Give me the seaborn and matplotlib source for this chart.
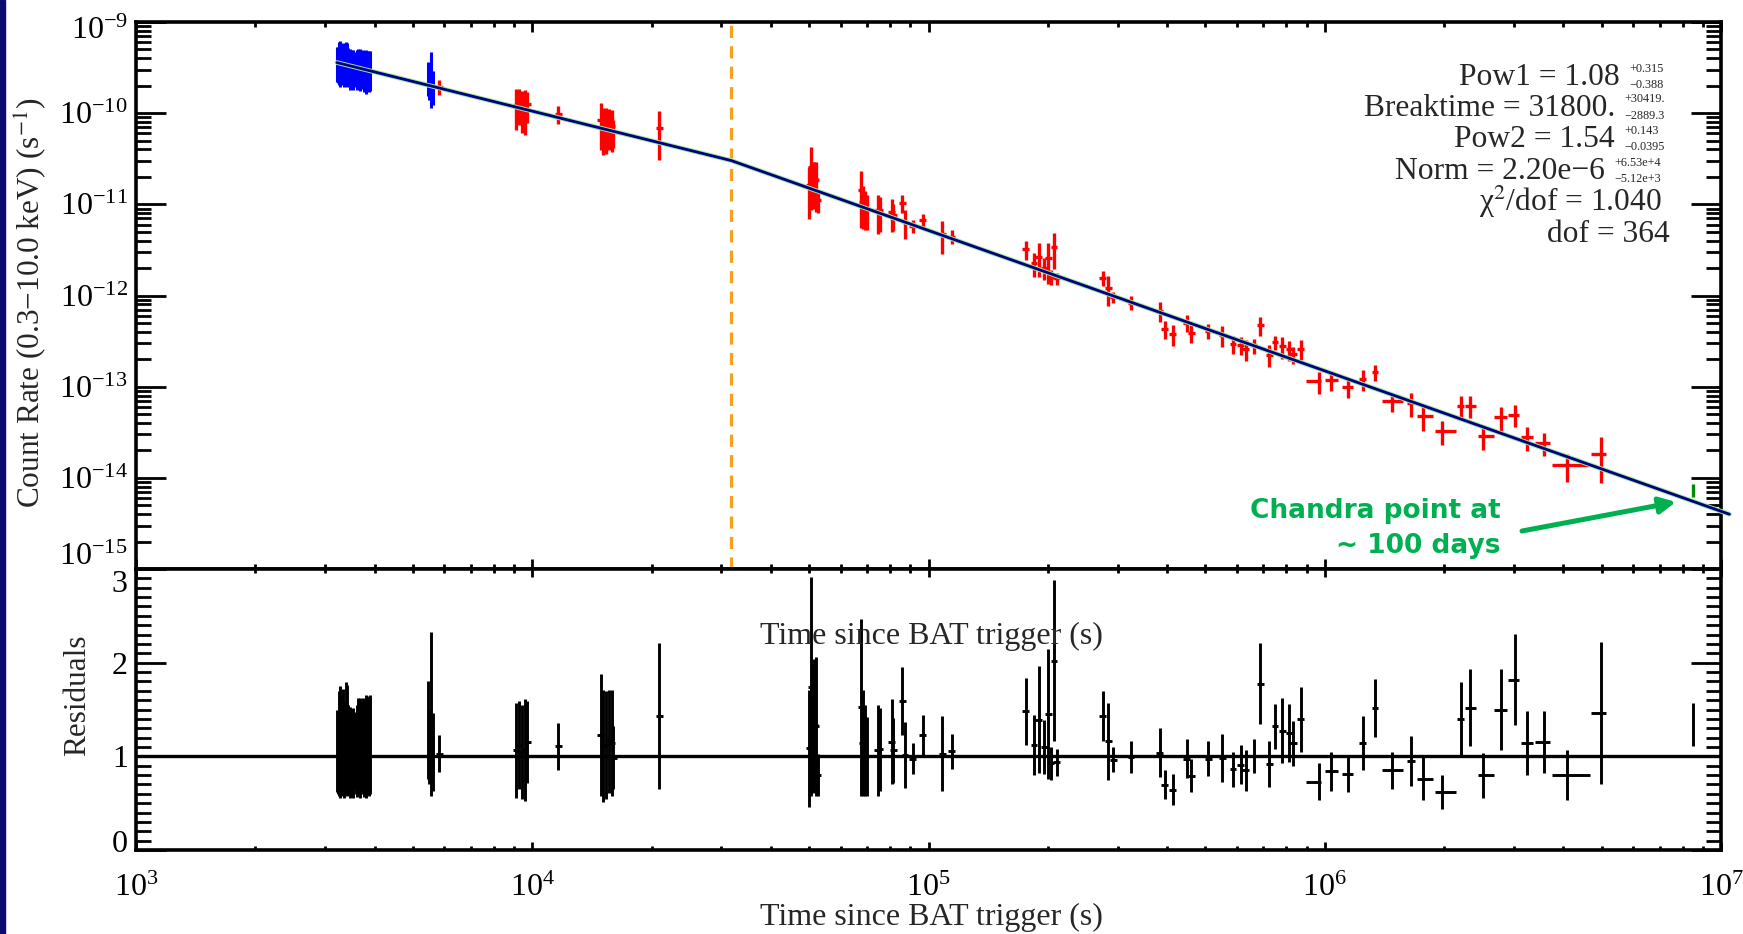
import numpy as np
import matplotlib
matplotlib.use("Agg")
import matplotlib.pyplot as plt
import seaborn as sns
from matplotlib.ticker import (LogLocator, MultipleLocator, FixedLocator,
                               LogFormatterMathtext, NullFormatter)
from matplotlib.transforms import ScaledTranslation
from matplotlib.patches import Rectangle

# ---------------- fit parameters (as printed on the chart) ----------------
POW1 = 1.08
BREAK_T = 31800.0
POW2 = 1.54
NORM = 2.20e-6

# ---------------- WT-mode data (blue) ----------------
wt_t = [3215, 3235, 3255, 3275, 3295, 3316, 3337, 3358, 3380, 3402,
        3424, 3446, 3469, 3492, 3515, 3538, 3562, 3586, 3610, 3634,
        3659, 3684, 3709, 3735, 3761, 3787, 3813, 3839, 3865, 3890,
        5446, 5500, 5555, 5610]
wt_res = [1.06, 1.04, 1.14, 1.15, 1.07, 1.115, 1.16, 1.07, 1.205, 1.17,
          1.075, 1.05, 1.04, 1.035, 1.04, 1.035, 1.055, 1.00, 1.06, 1.12,
          1.10, 1.09, 1.105, 1.11, 1.035, 1.11, 1.105, 1.12, 1.10, 1.13,
          1.28, 1.10, 1.455, 1.045]
wt_err = [0.44, 0.44, 0.56, 0.60, 0.45, 0.535, 0.56, 0.51, 0.585, 0.59,
          0.475, 0.43, 0.49, 0.405, 0.46, 0.485, 0.415, 0.40, 0.49, 0.50,
          0.50, 0.53, 0.475, 0.51, 0.465, 0.49, 0.555, 0.52, 0.52, 0.53,
          0.52, 0.40, 0.875, 0.415]

# ---------------- PC-mode data, narrow time bins (red) ----------------
pc_t = [5824, 9100, 9262, 9400, 9587, 9718, 11634, 14885, 15110, 15350,
        15590, 15870, 16020, 20900, 50030, 50520, 51010, 51490, 51990, 52510,
        67560, 68230, 69150, 70100, 74450, 75440, 80720, 81520, 85900, 87250,
        91200, 96700, 108400, 114400, 175800, 184600, 190000, 196100, 200600,
        203300, 207400, 210500, 275600, 284600, 292700, 324500, 383700,
        395000, 413000, 448000, 461000, 508000, 551000, 587000, 613000,
        632000, 662000, 688000, 724000, 749000, 781000, 813000, 832000,
        869000, 1246000, 1339000, 2203000]
pc_res = [1.03, 1.065, 1.12, 1.045, 1.065, 1.155, 1.105, 1.23, 1.11, 1.12,
          1.16, 1.145, 0.985, 1.43, 1.085, 1.745, 1.305, 1.335, 1.32, 0.805,
          1.525, 1.145, 1.065, 1.0, 1.065, 1.075, 1.155, 1.065, 1.59, 1.015,
          0.975, 1.225, 1.03, 1.055, 1.48, 1.12, 1.39, 1.10, 1.455,
          0.925, 2.02, 0.935, 1.43, 1.16, 0.965, 0.99, 1.04,
          0.695, 0.645, 0.975, 0.795, 0.975, 0.985, 0.86, 0.91,
          0.85, 1.005, 1.775, 0.915, 1.32, 1.275, 1.25, 1.14,
          1.395, 1.14, 1.52, 1.40]
pc_err = [0.20, 0.505, 0.47, 0.505, 0.545, 0.435, 0.25, 0.65, 0.60, 0.58,
          0.55, 0.565, 0.335, 0.78, 0.625, 1.165, 0.695, 0.705, 0.74, 0.225,
          0.945, 0.565, 0.485, 0.42, 0.485, 0.445, 0.455, 0.345, 0.36, 0.355,
          0.165, 0.215, 0.40, 0.185, 0.36, 0.32, 0.57, 0.29, 0.695,
          0.175, 0.86, 0.145, 0.27, 0.41, 0.135, 0.17, 0.26,
          0.155, 0.165, 0.205, 0.175, 0.185, 0.255, 0.19, 0.21,
          0.22, 0.185, 0.435, 0.245, 0.24, 0.345, 0.31, 0.24,
          0.345, 0.29, 0.31, 0.39]

# ---------------- PC-mode data, wide time bins (red crosses) ----------------
wide_t = [966000, 1039000, 1146000, 1475000, 1647000, 1766000, 1972000,
          2326000, 2513000, 2780000, 3020000, 3233000, 3574000, 4077000, 4970000]
wide_lo = [897000, 1000000, 1103000, 1392000, 1609000, 1710000, 1897000,
           2260000, 2430000, 2670000, 2905000, 3120000, 3400000, 3737000, 4690000]
wide_hi = [977000, 1082000, 1176000, 1572000, 1689000, 1878000, 2143000,
           2410000, 2670000, 2887000, 3100000, 3360000, 3700000, 4670000, 5130000]
wide_res = [0.73, 0.84, 0.81, 0.85, 0.95, 0.76, 0.62,
            1.52, 0.80, 1.50, 1.82, 1.14, 1.15, 0.80, 1.46]
wide_err = [0.20, 0.21, 0.19, 0.20, 0.27, 0.23, 0.18,
            0.41, 0.24, 0.43, 0.49, 0.34, 0.33, 0.27, 0.76]

# ---------------- Chandra point (green) ----------------
cxo_t = [8510000]
cxo_res = [1.34]
cxo_err = [0.23]

# model curve end points (time range of the drawn fit)
model_t = [3215, BREAK_T, 1.05e7]

fit_lines = [("Pow1 = 1.08", "+0.315", "\u22120.388"),
             ("Breaktime = 31800.", "+30419.", "\u22122889.3"),
             ("Pow2 = 1.54", "+0.143", "\u22120.0395"),
             ("Norm = 2.20e\u22126", "+6.53e+4", "\u22125.12e+3")]
stat_lines = ["\u03c7$^{2}$/dof = 1.040", "dof = 364"]


def model(t):
    t = np.asarray(t, dtype=float)
    return np.where(t < BREAK_T, NORM * t ** (-POW1),
                    NORM * BREAK_T ** (POW2 - POW1) * t ** (-POW2))


# ---------------- style ----------------
sns.set_style("ticks")
plt.rcParams['font.family'] = ['Liberation Serif', 'DejaVu Serif']
plt.rcParams['mathtext.fontset'] = 'stix'
plt.rcParams['axes.linewidth'] = 2.6

W, H = 1743, 934
fig = plt.figure(figsize=(W / 100, H / 100), dpi=100, facecolor='white')


def fx(x):
    return x / W


def fy(y):
    return 1 - y / H


L, R, T, M, B = 136, 1721, 22, 569, 850
ax1 = fig.add_axes([fx(L), fy(M), (R - L) / W, (M - T) / H])
ax2 = fig.add_axes([fx(L), fy(B), (R - L) / W, (B - M) / H])

# left navy strip
fig.patches.append(Rectangle((0, 0), 5 / W, 1, transform=fig.transFigure,
                             color='#0c0c70', zorder=-1))

BLUE, RED, DGREEN, NAVY = '#0000ff', '#ff0000', '#008c00', '#000080'

# ---------------- upper panel ----------------
wt_m = model(wt_t)
ax1.errorbar(wt_t, wt_m * np.array(wt_res), yerr=wt_m * np.array(wt_err),
             fmt='none', ecolor=BLUE, elinewidth=2.2, capsize=0, zorder=3)
pc_m = model(pc_t)
pc_tt = np.array(pc_t, float)
ax1.errorbar(pc_t, pc_m * np.array(pc_res), yerr=pc_m * np.array(pc_err),
             xerr=0.02 * pc_tt, fmt='none', ecolor=RED, elinewidth=2.4,
             capsize=0, zorder=3)
wd_m = model(wide_t)
wt_arr = np.array(wide_t, float)
wide_xerr = [wt_arr - np.array(wide_lo), np.array(wide_hi) - wt_arr]
ax1.errorbar(wide_t, wd_m * np.array(wide_res), yerr=wd_m * np.array(wide_err),
             xerr=wide_xerr, fmt='none', ecolor=RED, elinewidth=2.4,
             capsize=0, zorder=3)
cx_m = model(cxo_t)
ax1.errorbar(cxo_t, cx_m * np.array(cxo_res), yerr=cx_m * np.array(cxo_err),
             fmt='none', ecolor=DGREEN, elinewidth=2.4, capsize=0, zorder=3)

my = model(model_t)
sns.lineplot(x=model_t, y=my, ax=ax1, color='#9be89b', linewidth=3.4,
             sort=False, estimator=None, clip_on=False, zorder=4)
sns.lineplot(x=model_t, y=my, ax=ax1, color=NAVY, linewidth=2.0,
             sort=False, estimator=None, clip_on=False, zorder=5)
ax1.axvline(BREAK_T, color='#f5a11e', linewidth=2.3, linestyle=(0, (3.8, 2.6)),
            zorder=2)

ax1.set_xscale('log')
ax1.set_yscale('log')
ax1.set_xlim(1e3, 1e7)
ax1.set_ylim(1e-15, 1e-9)
ax1.yaxis.set_major_locator(FixedLocator([10.0 ** k for k in range(-15, -8)]))
ax1.yaxis.set_minor_locator(LogLocator(base=10, subs=np.arange(2, 10), numticks=50))
ax1.yaxis.set_major_formatter(LogFormatterMathtext())
ax1.yaxis.set_minor_formatter(NullFormatter())

# ---------------- lower panel ----------------
ax2.axhline(1.0, color='black', linewidth=2.4, zorder=2)
ax2.errorbar(wt_t, wt_res, yerr=wt_err, fmt='none', ecolor='black',
             elinewidth=2.1, capsize=0, zorder=3)
ax2.errorbar(pc_t, pc_res, yerr=pc_err, xerr=0.02 * pc_tt, fmt='none',
             ecolor='black', elinewidth=2.1, capsize=0, zorder=3)
ax2.errorbar(wide_t, wide_res, yerr=wide_err, xerr=wide_xerr, fmt='none',
             ecolor='black', elinewidth=2.1, capsize=0, zorder=3)
ax2.errorbar(cxo_t, cxo_res, yerr=cxo_err, fmt='none', ecolor='black',
             elinewidth=2.1, capsize=0, zorder=3)
ax2.set_xscale('log')
ax2.set_xlim(1e3, 1e7)
ax2.set_ylim(0, 3)
ax2.yaxis.set_major_locator(FixedLocator([0, 1, 2, 3]))
ax2.yaxis.set_minor_locator(MultipleLocator(0.1))
ax2.set_yticklabels(['0', '1', '2', '3'])

for ax in (ax1, ax2):
    ax.set_facecolor('white')
    ax.xaxis.set_major_locator(FixedLocator([1e3, 1e4, 1e5, 1e6, 1e7]))
    ax.xaxis.set_minor_locator(LogLocator(base=10, subs=np.arange(2, 10), numticks=50))
    ax.xaxis.set_minor_formatter(NullFormatter())
    ax.tick_params(which='both', direction='in', top=True, right=True,
                   width=2.0, color='black', labelsize=23, labelcolor='black')
    ax.tick_params(axis='y', which='major', length=21.5, pad=6)
    ax.tick_params(axis='y', which='minor', length=11)
    for sp in ax.spines.values():
        sp.set_linewidth(2.6)
        sp.set_color('black')
    ax.set_xlabel('')
    ax.set_ylabel('')

ax1.tick_params(axis='x', which='major', length=7.5, labelbottom=False)
ax1.tick_params(axis='x', which='minor', length=3.8)
ax2.tick_params(axis='x', which='major', length=5.5, pad=17)
ax2.tick_params(axis='x', which='minor', length=3.2)
ax2.xaxis.set_major_formatter(LogFormatterMathtext())

# nudge the end labels inward like the original
fig.canvas.draw()


def nudge(tick, dy_px):
    lab = tick.label1
    lab.set_transform(lab.get_transform() +
                      ScaledTranslation(0, dy_px / 100.0, fig.dpi_scale_trans))


t1 = ax1.yaxis.get_major_ticks()
nudge(t1[-1], -6)
nudge(t1[0], 15)
t2 = ax2.yaxis.get_major_ticks()
nudge(t2[-1], -12)
nudge(t2[0], 9)

# ---------------- labels ----------------
fig.text(fx(31), fy(303), 'Count Rate (0.3\u221210.0 keV) (s$^{-1}$)',
         rotation=90, ha='center', va='center', fontsize=22.5)
fig.text(fx(78), fy(695), 'Residuals', rotation=90, ha='center',
         va='center', fontsize=22.5)
fig.text(fx(931), fy(917), 'Time since BAT trigger (s)', ha='center',
         va='center', fontsize=23)
fig.text(fx(931), fy(636), 'Time since BAT trigger (s)', ha='center',
         va='center', fontsize=23, zorder=10)

# fit result block
main_right = [1620, 1615, 1615, 1605]
baselines = [85, 116, 147, 179]
for (txt, sup, sub), xr, yb in zip(fit_lines, main_right, baselines):
    fig.text(fx(xr), fy(yb), txt, ha='right', va='baseline', fontsize=22.7)
    fig.text(fx(xr + 9), fy(yb - 16.5), sup, ha='left', va='center', fontsize=8.8)
    fig.text(fx(xr + 9), fy(yb), sub, ha='left', va='center', fontsize=8.8)
fig.text(fx(1662), fy(211), stat_lines[0], ha='right', va='baseline', fontsize=22.7)
fig.text(fx(1670), fy(242), stat_lines[1], ha='right', va='baseline', fontsize=22.7)

# Chandra annotation
GREEN = '#00b050'
fig.text(fx(1501), fy(518), 'Chandra point at', ha='right', va='baseline',
         fontsize=19, fontweight='bold', color=GREEN, family='DejaVu Sans')
fig.text(fx(1501), fy(553), '~ 100 days', ha='right', va='baseline',
         fontsize=19, fontweight='bold', color=GREEN, family='DejaVu Sans')
ax1.annotate('', xy=(fx(1676), fy(502)), xytext=(fx(1522), fy(531)),
             xycoords='figure fraction', textcoords='figure fraction',
             arrowprops=dict(arrowstyle='-|>', color=GREEN, lw=3.6,
                             mutation_scale=24, shrinkA=0, shrinkB=0))

fig.savefig('out.png', dpi=100, facecolor='white')
